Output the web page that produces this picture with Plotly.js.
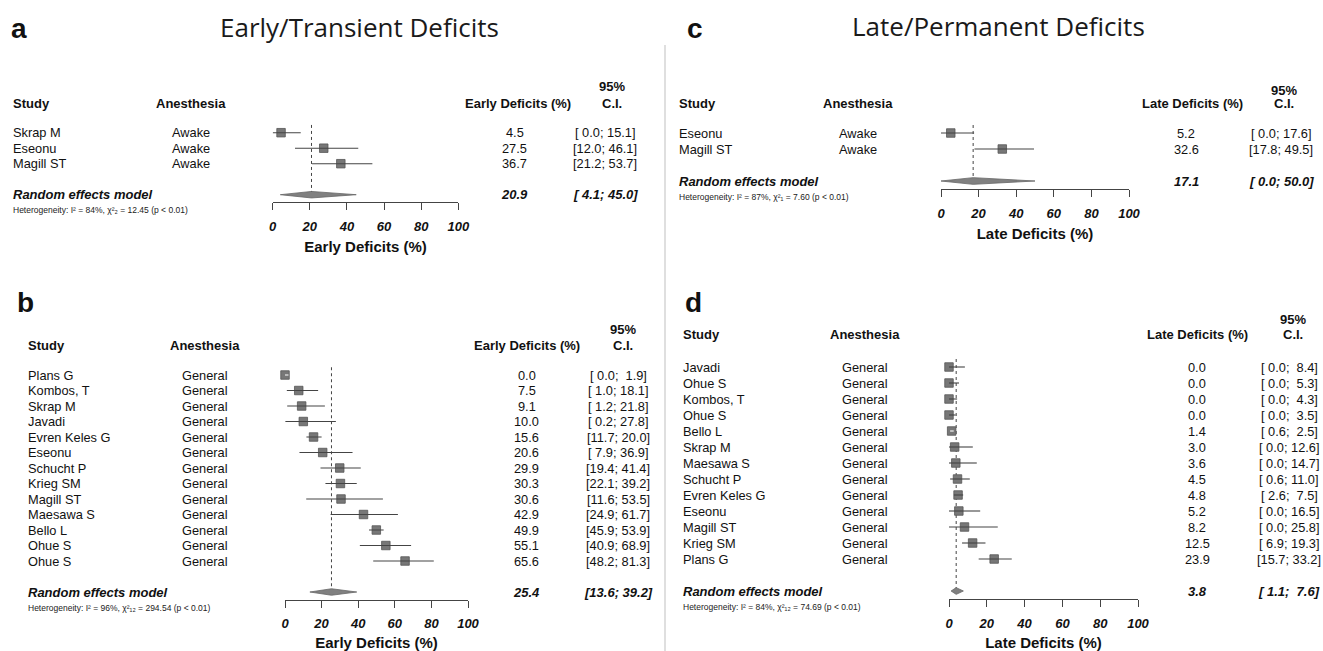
<!DOCTYPE html>
<html><head><meta charset="utf-8">
<script src="https://cdn.plot.ly/plotly-3.0.1.min.js"></script>
<style>html,body{margin:0;padding:0;background:#fff}#chart{width:1323px;height:651px}</style>
</head><body><div id="chart"></div>
<script>
const W=1323,H=651;
const FONT='Liberation Sans, Arial, Helvetica, sans-serif';

// ---- Panel a: Early/Transient deficits, awake ----
const studiesA=['Skrap M','Eseonu','Magill ST'];
const anesA=['Awake','Awake','Awake'];
const estA=[4.5,27.5,36.7];
const loA=[0.0,12.0,21.2];
const hiA=[15.1,46.1,53.7];
const reA=[20.9,4.1,45.0];
const hetA=[84,2,12.45];

// ---- Panel b: Early/Transient deficits, general ----
const studiesB=['Plans G','Kombos, T','Skrap M','Javadi','Evren Keles G','Eseonu','Schucht P','Krieg SM','Magill ST','Maesawa S','Bello L','Ohue S','Ohue S'];
const anesB=['General','General','General','General','General','General','General','General','General','General','General','General','General'];
const estB=[0.0,7.5,9.1,10.0,15.6,20.6,29.9,30.3,30.6,42.9,49.9,55.1,65.6];
const loB=[0.0,1.0,1.2,0.2,11.7,7.9,19.4,22.1,11.6,24.9,45.9,40.9,48.2];
const hiB=[1.9,18.1,21.8,27.8,20.0,36.9,41.4,39.2,53.5,61.7,53.9,68.9,81.3];
const reB=[25.4,13.6,39.2];
const hetB=[96,12,294.54];

// ---- Panel c: Late/Permanent deficits, awake ----
const studiesC=['Eseonu','Magill ST'];
const anesC=['Awake','Awake'];
const estC=[5.2,32.6];
const loC=[0.0,17.8];
const hiC=[17.6,49.5];
const reC=[17.1,0.0,50.0];
const hetC=[87,1,7.60];

// ---- Panel d: Late/Permanent deficits, general ----
const studiesD=['Javadi','Ohue S','Kombos, T','Ohue S','Bello L','Skrap M','Maesawa S','Schucht P','Evren Keles G','Eseonu','Magill ST','Krieg SM','Plans G'];
const anesD=['General','General','General','General','General','General','General','General','General','General','General','General','General'];
const estD=[0.0,0.0,0.0,0.0,1.4,3.0,3.6,4.5,4.8,5.2,8.2,12.5,23.9];
const loD=[0.0,0.0,0.0,0.0,0.6,0.0,0.0,0.6,2.6,0.0,0.0,6.9,15.7];
const hiD=[8.4,5.3,4.3,3.5,2.5,12.6,14.7,11.0,7.5,16.5,25.8,19.3,33.2];
const reD=[3.8,1.1,7.6];
const hetD=[84,12,74.69];

const tickVals=[0,20,40,60,80,100];
const tickLabels=['0','20','40','60','80','100'];
const titleEarly='Early/Transient Deficits';
const titleLate='Late/Permanent Deficits';
const axisEarly='Early Deficits (%)';
const axisLate='Late Deficits (%)';

const panels=[
 {letter:'a',xa:'x',ya:'y',studies:studiesA,anes:anesA,est:estA,lo:loA,hi:hiA,re:reA,het:hetA,axisTitle:axisEarly,
  x0:272.7,x1:458.3,row0:117.2,step:15.5,studyX:10.5,anesX:191.5,valX:514.5,valHdrX:517.5,ciX:605,pctX:612,hdrY:103,pctY:87,letterX:19,letterY:29},
 {letter:'b',xa:'x2',ya:'y2',studies:studiesB,anes:anesB,est:estB,lo:loB,hi:hiB,re:reB,het:hetB,axisTitle:axisEarly,
  x0:285,x1:468,row0:359.5,step:15.5,studyX:26,anesX:205,valX:526.5,valHdrX:527,ciX:618,pctX:623,hdrY:345,pctY:329,letterX:25,letterY:302},
 {letter:'c',xa:'x3',ya:'y3',studies:studiesC,anes:anesC,est:estC,lo:loC,hi:hiC,re:reC,het:hetC,axisTitle:axisLate,
  x0:941,x1:1129,row0:117,step:16,studyX:677,anesX:858,valX:1186,valHdrX:1192,ciX:1281,pctX:1284,hdrY:103,pctY:90,letterX:695,letterY:29},
 {letter:'d',xa:'x4',ya:'y4',studies:studiesD,anes:anesD,est:estD,lo:loD,hi:hiD,re:reD,het:hetD,axisTitle:axisLate,
  x0:949,x1:1138,row0:351,step:16,studyX:681,anesX:865,valX:1197,valHdrX:1197,ciX:1289,pctX:1293,hdrY:335,pctY:320,letterX:693,letterY:302}
];

const px=x=>x/W, py=y=>1-y/H;
const fmt=v=>v.toFixed(1);
const pad=(s,n)=>{while(s.length<n)s='\u00a0'+s;return s;};
const SUB='₀₁₂₃₄₅₆₇₈₉';
const toSub=n=>String(n).split('').map(c=>SUB[+c]).join('');

const traces=[], annotations=[], shapes=[];
const layout={width:W,height:H,margin:{l:0,r:0,t:0,b:0},paper_bgcolor:'#fff',plot_bgcolor:'rgba(0,0,0,0)',showlegend:false,
  font:{family:FONT,color:'#111'},annotations:annotations,shapes:shapes};

const SQ=8.5;
function txt(text,x,y,yref,opt){
  return Object.assign({text:text,x:x,y:y,xref:'paper',yref:yref,showarrow:false,xanchor:'center',yanchor:'middle',
    font:{family:FONT,size:12.8,color:'#111'}},opt||{});
}

panels.forEach(p=>{
  const n=p.studies.length;
  const rows=p.studies.map((_,i)=>i+1);
  const reRow=n+2, hetRow=n+3, axisRow=n+2.5;
  const xaName='xaxis'+p.xa.slice(1), yaName='yaxis'+p.ya.slice(1);
  const pxPerUnit=(p.x1-p.x0)/100;
  const half=SQ/2/pxPerUnit;

  layout[xaName]={domain:[px(p.x0),px(p.x1)],anchor:p.ya,range:[0,100],showgrid:false,zeroline:false,
    showline:true,linecolor:'#444',linewidth:1,ticks:'outside',ticklen:7,tickwidth:1,tickcolor:'#444',
    tickmode:'array',tickvals:tickVals,ticktext:tickLabels,ticklabelstandoff:5,
    tickfont:{family:FONT,size:13,color:'#111',weight:'bold',style:'italic'},
    title:{text:p.axisTitle,font:{family:FONT,size:15,color:'#111',weight:'bold'},standoff:8},fixedrange:true};
  layout[yaName]={domain:[py(p.row0+axisRow*p.step),py(p.row0)],anchor:p.xa,range:[axisRow,0],
    visible:false,showgrid:false,zeroline:false,fixedrange:true};

  // squares
  traces.push({type:'scatter',mode:'markers',x:p.est,y:rows,xaxis:p.xa,yaxis:p.ya,cliponaxis:false,hoverinfo:'skip',
    marker:{symbol:'square',size:SQ,color:'#777777',line:{color:'#555555',width:0.8}}});
  // CI lines (dark when extending beyond the square, white when inside it)
  const ox=[],oy=[],ix=[],iy=[];
  p.est.forEach((e,i)=>{
    const inside=(p.lo[i]>=e-half)&&(p.hi[i]<=e+half);
    const X=inside?ix:ox, Y=inside?iy:oy;
    X.push(p.lo[i],p.hi[i],null); Y.push(rows[i],rows[i],null);
  });
  traces.push({type:'scatter',mode:'lines',x:ox,y:oy,xaxis:p.xa,yaxis:p.ya,cliponaxis:false,hoverinfo:'skip',
    line:{color:'#444444',width:1.1}});
  if(ix.length) traces.push({type:'scatter',mode:'lines',x:ix,y:iy,xaxis:p.xa,yaxis:p.ya,cliponaxis:false,hoverinfo:'skip',
    line:{color:'#ffffff',width:1.1}});
  // diamond
  const dh=0.21;
  traces.push({type:'scatter',mode:'lines',x:[p.re[1],p.re[0],p.re[2],p.re[0],p.re[1]],
    y:[reRow,reRow-dh,reRow,reRow+dh,reRow],fill:'toself',fillcolor:'#808080',xaxis:p.xa,yaxis:p.ya,cliponaxis:false,hoverinfo:'skip',
    line:{color:'#666666',width:0.8}});
  // dashed pooled line
  shapes.push({type:'line',xref:p.xa,yref:p.ya,x0:p.re[0],x1:p.re[0],y0:0.5,y1:reRow,layer:'below',
    line:{color:'#444',width:1,dash:'3px,3px'}});

  // text columns
  const allLo=p.lo.concat([p.re[1]]), allHi=p.hi.concat([p.re[2]]);
  const wl=Math.max(...allLo.map(v=>fmt(v).length)), wh=Math.max(...allHi.map(v=>fmt(v).length));
  const ci=(l,h)=>'['+pad(fmt(l),wl)+';\u00a0'+pad(fmt(h),wh)+']';
  p.studies.forEach((s,i)=>{
    annotations.push(txt(s,px(p.studyX),rows[i],p.ya,{xanchor:'left'}));
    annotations.push(txt(p.anes[i],px(p.anesX),rows[i],p.ya));
    annotations.push(txt(fmt(p.est[i]),px(p.valX),rows[i],p.ya));
    annotations.push(txt(ci(p.lo[i],p.hi[i]),px(p.ciX),rows[i],p.ya));
  });
  const bi={family:FONT,size:13,color:'#111',weight:'bold',style:'italic'};
  annotations.push(txt('Random effects model',px(p.studyX),reRow,p.ya,{xanchor:'left',font:bi}));
  annotations.push(txt(fmt(p.re[0]),px(p.valX),reRow,p.ya,{font:bi}));
  annotations.push(txt(ci(p.re[1],p.re[2]),px(p.ciX),reRow,p.ya,{font:bi}));
  annotations.push(txt('Heterogeneity: I² = '+p.het[0]+'%, χ²'+toSub(p.het[1])+' = '+p.het[2].toFixed(2)+' (p &lt; 0.01)',
    px(p.studyX),py(p.row0+hetRow*p.step),'paper',{xanchor:'left',font:{family:FONT,size:8.5,color:'#222'}}));

  // headers
  const hf={family:FONT,size:13,color:'#111',weight:'bold'};
  annotations.push(txt('Study',px(p.studyX),py(p.hdrY),'paper',{xanchor:'left',font:hf}));
  annotations.push(txt('Anesthesia',px(p.anesX),py(p.hdrY),'paper',{font:hf}));
  annotations.push(txt(p.axisTitle,px(p.valHdrX),py(p.hdrY),'paper',{font:hf}));
  annotations.push(txt('C.I.',px(p.pctX),py(p.hdrY),'paper',{font:hf}));
  annotations.push(txt('95%',px(p.pctX),py(p.pctY),'paper',{font:hf}));
  annotations.push(txt(p.letter,px(p.letterX),py(p.letterY),'paper',{font:{family:FONT,size:28,color:'#111',weight:'bold'}}));
});

// panel titles
annotations.push(txt(titleEarly,px(359),py(26.5),'paper',{font:{family:'Open Sans, sans-serif',size:26,color:'#1a1a1a'}}));
annotations.push(txt(titleLate,px(998.5),py(26),'paper',{font:{family:'Open Sans, sans-serif',size:26,color:'#1a1a1a'}}));
// vertical separator
shapes.push({type:'line',xref:'paper',yref:'paper',x0:px(665),x1:px(665),y0:py(45),y1:py(651),line:{color:'#d4d4d4',width:1.5}});

Plotly.newPlot('chart',traces,layout,{staticPlot:true,displayModeBar:false});
</script></body></html>
